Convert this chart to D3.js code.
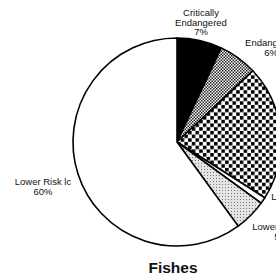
<!DOCTYPE html>
<html>
<head>
<meta charset="utf-8">
<script src="https://cdn.jsdelivr.net/npm/d3@7"></script>
<style>
  body { margin: 0; background: #fff; }
  text { font-family: "Liberation Sans", Arial, sans-serif; }
</style>
</head>
<body>
<svg id="chart"></svg>
<script>
// categories and values (percent), clockwise from 12 o'clock
const categories = ["Critically Endangered", "Endangered", "Vulnerable", "Lower Risk cd", "Lower Risk nt", "Lower Risk lc"];
const values = [7, 6, 21, 1, 5, 60];
const labelLines = [["Critically", "Endangered", "7%"], ["Endangered", "6%"], ["Vulnerable", "21%"],
                    ["Lower Risk cd", "1%"], ["Lower Risk nt", "5%"], ["Lower Risk lc", "60%"]];
const title = "Fishes";

// label anchors (relative to pie centre), chosen to match the original layout
const labelPos = [[24, -126], [94, -96], [160, -10], [124, 58], [104, 88], [-134, 43]];
const fills = ["#000", "url(#fine)", "url(#checker)", "#fff", "url(#stipple)", "#fff"];

const width = 276, height = 277;
const cx = 177, cy = 142, radius = 104;

const svg = d3.select("#chart").attr("width", width).attr("height", height);

const defs = svg.append("defs");
const fine = defs.append("pattern").attr("id", "fine").attr("patternUnits", "userSpaceOnUse")
    .attr("width", 3).attr("height", 3);
fine.append("rect").attr("width", 3).attr("height", 3).attr("fill", "#fff");
fine.append("rect").attr("width", 1.5).attr("height", 1.5).attr("fill", "#222");
fine.append("rect").attr("x", 1.5).attr("y", 1.5).attr("width", 1.5).attr("height", 1.5).attr("fill", "#222");

const checker = defs.append("pattern").attr("id", "checker").attr("patternUnits", "userSpaceOnUse")
    .attr("width", 7.4).attr("height", 7.4);
checker.append("rect").attr("width", 7.4).attr("height", 7.4).attr("fill", "#fff");
checker.append("rect").attr("width", 3.5).attr("height", 3.5).attr("fill", "#000");
checker.append("rect").attr("x", 3.7).attr("y", 3.7).attr("width", 3.5).attr("height", 3.5).attr("fill", "#000");

const stipple = defs.append("pattern").attr("id", "stipple").attr("patternUnits", "userSpaceOnUse")
    .attr("width", 3).attr("height", 3);
stipple.append("rect").attr("width", 3).attr("height", 3).attr("fill", "#e4e4e4");
stipple.append("rect").attr("width", 1).attr("height", 1).attr("fill", "#777");

const data = categories.map((c, i) => ({ name: c, value: values[i], lines: labelLines[i], pos: labelPos[i], fill: fills[i] }));

const pie = d3.pie().sort(null).value(d => d.value);
const arc = d3.arc().innerRadius(0).outerRadius(radius);

const g = svg.append("g").attr("transform", `translate(${cx},${cy})`);

g.selectAll("path.slice")
    .data(pie(data))
    .join("path")
    .attr("class", "slice")
    .attr("d", arc)
    .attr("fill", d => d.data.fill)
    .attr("stroke", "#000")
    .attr("stroke-width", 1.6)
    .attr("stroke-linejoin", "round");

const labels = g.selectAll("text.lbl")
    .data(data)
    .join("text")
    .attr("class", "lbl")
    .attr("text-anchor", "middle")
    .attr("font-size", "9.5px")
    .attr("fill", "#111");

labels.each(function(d) {
    const t = d3.select(this);
    d.lines.forEach((line, j) => {
        t.append("tspan")
            .attr("x", d.pos[0])
            .attr("y", d.pos[1] + j * 9.6)
            .text(line);
    });
});

svg.append("text")
    .attr("x", 173)
    .attr("y", 273)
    .attr("text-anchor", "middle")
    .attr("font-size", "15.5px")
    .attr("font-weight", "bold")
    .attr("fill", "#111")
    .text(title);
</script>
</body>
</html>
